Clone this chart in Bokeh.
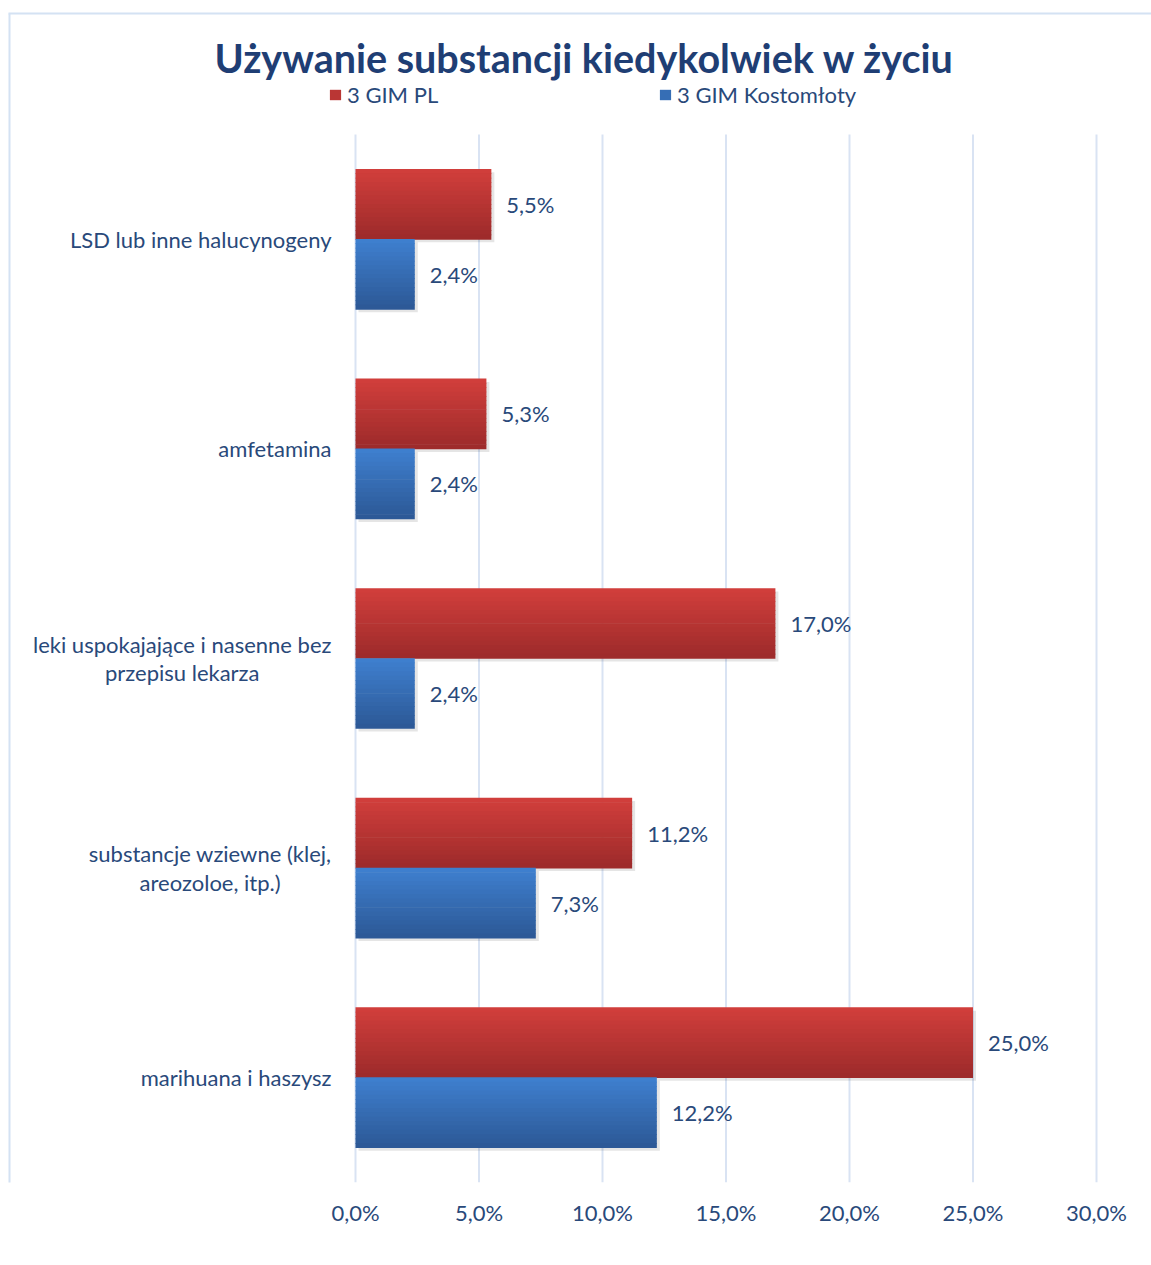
from bokeh.plotting import figure
from bokeh.models import (Range1d, FixedTicker, CustomJSTickFormatter,
                          Label, Legend, LegendItem, ColumnDataSource)
from bokeh.transform import dodge
from bokeh.core.properties import value
from bokeh.embed import file_html
from bokeh.resources import INLINE

# ---------------- data ----------------
categories = [
    "LSD lub inne halucynogeny",
    "amfetamina",
    "leki uspokajające i nasenne bez\nprzepisu lekarza",
    "substancje wziewne (klej,\nareozoloe, itp.)",
    "marihuana i haszysz",
]
series_names = ["3 GIM PL", "3 GIM Kostomłoty"]
gim_pl = [5.5, 5.3, 17.0, 11.2, 25.0]
gim_kostomloty = [2.4, 2.4, 2.4, 7.3, 12.2]
x_ticks = [0, 5, 10, 15, 20, 25, 30]
title_text = "Używanie substancji kiedykolwiek w życiu"

# ---------------- style / layout ----------------
FONT = "Lato"
FS = "22px"
TEXT_COLOR = "#29497a"
TITLE_COLOR = "#1f3e74"
GRID_COLOR = "#d9e3f3"
BORDER_COLOR = "#d4e2f3"
RED_TOP, RED_BOTTOM = "#d23f3c", "#9c2a2a"
BLUE_TOP, BLUE_BOTTOM = "#3f80d0", "#2c5895"

W, H = 1151, 1265
AX0, AX30 = 355, 1096                # pixel position of 0 % and 30 %
PLOT_T, FRAME_B = 134, 1182          # top of bar area / bottom of frame (px)
N_CAT = len(categories)
PX_Y = N_CAT / (FRAME_B - PLOT_T)    # data units per pixel (vertical)
PX_X = 30.0 / (AX30 - AX0)           # data units per pixel (horizontal)


def py(page_y):
    return (FRAME_B - page_y) * PX_Y


def px(page_x):
    return (page_x - AX0) * PX_X


cat_y = [N_CAT - i - 0.5 for i in range(N_CAT)]

p = figure(
    width=W, height=H,
    x_range=Range1d(px(0), px(W)), y_range=Range1d(py(FRAME_B), py(0)),
    output_backend="svg", toolbar_location=None,
)
p.min_border = 0
p.min_border_bottom = H - FRAME_B
p.outline_line_color = None
p.background_fill_color = "white"
p.border_fill_color = "white"
p.xgrid.grid_line_color = None
p.ygrid.grid_line_color = None
p.yaxis.visible = False

# x axis
p.xaxis.ticker = FixedTicker(ticks=x_ticks)
p.xaxis.formatter = CustomJSTickFormatter(
    code="return tick.toFixed(1).replace('.', ',') + '%';")
p.xaxis.axis_line_color = None
p.xaxis.major_tick_line_color = None
p.xaxis.minor_tick_line_color = None
p.xaxis.major_label_text_font = FONT
p.xaxis.major_label_text_color = TEXT_COLOR
p.xaxis.major_label_text_font_size = FS
p.xaxis.major_label_standoff = 10

# chart border (left and top)
p.segment(x0=[px(9), px(8)], y0=[py(FRAME_B + 5), py(13)],
          x1=[px(9), px(W + 5)], y1=[py(13), py(13)],
          line_color=BORDER_COLOR, line_width=2)

# vertical gridlines (only across the bar area)
p.segment(x0=x_ticks, x1=x_ticks, y0=[0] * len(x_ticks), y1=[N_CAT] * len(x_ticks),
          line_color=GRID_COLOR, line_width=2)

# category labels (right-anchored, lines centred)
p.text(x=[0] * N_CAT, y=cat_y, text=categories, x_offset=-24,
       anchor="center_right", text_align="center", text_baseline="middle",
       text_line_height=1.05,
       text_font=value(FONT), text_font_size=FS, text_color=TEXT_COLOR)


def lerp(c1, c2, t):
    a = [int(c1[i:i + 2], 16) for i in (1, 3, 5)]
    b = [int(c2[i:i + 2], 16) for i in (1, 3, 5)]
    return "#%02x%02x%02x" % tuple(round(x + (y - x) * t) for x, y in zip(a, b))


BAR_H = 70 * PX_Y
N_SLICES = 16
legend_items = []
for name, vals, offset, ctop, cbot in [
    (series_names[0], gim_pl, BAR_H / 2, RED_TOP, RED_BOTTOM),
    (series_names[1], gim_kostomloty, -BAR_H / 2, BLUE_TOP, BLUE_BOTTOM),
]:
    labels = [("%.1f" % v).replace(".", ",") + "%" for v in vals]
    src = ColumnDataSource(dict(y=cat_y, val=vals, lbl=labels,
                                shadow=[v + 3 * PX_X for v in vals]))
    # soft shadow
    p.hbar(y=dodge("y", offset - 3 * PX_Y), left=3 * PX_X,
           right="shadow", height=BAR_H, source=src,
           fill_color="#000000", fill_alpha=0.10, line_color=None)
    # gradient bar made of thin slices
    for k in range(N_SLICES):
        t = (k + 0.5) / N_SLICES
        c = offset + BAR_H / 2 - (k + 0.5) * BAR_H / N_SLICES
        p.hbar(y=dodge("y", c), left=0, right="val",
               height=BAR_H / N_SLICES * 1.15, source=src,
               fill_color=lerp(ctop, cbot, t), line_color=None)
    # value labels
    p.text(x="val", y=dodge("y", offset), text="lbl",
           source=src, x_offset=15, text_baseline="middle", text_align="left",
           text_font=value(FONT), text_font_size=FS, text_color=TEXT_COLOR)
    # zero-height renderer that only provides the legend swatch
    swatch = p.hbar(y="y", left=0, right="val", height=0, source=src,
                    fill_color=lerp(ctop, cbot, 0.45), line_color=None)
    legend_items.append(LegendItem(label=name, renderers=[swatch]))

legend = Legend(items=legend_items, orientation="horizontal",
                location=(328, FRAME_B - 108),
                glyph_width=14, glyph_height=13, label_standoff=5,
                label_width=292, spacing=19, padding=0, margin=0,
                border_line_color=None, background_fill_alpha=0,
                label_text_font=FONT, label_text_font_size="22px",
                label_text_color=TEXT_COLOR)
p.add_layout(legend, "center")

title = Label(x=px(584), y=py(57), text=title_text,
              text_align="center", text_baseline="alphabetic",
              text_font=FONT, text_font_style="bold", text_font_size="39.5px",
              text_color=TITLE_COLOR)
p.add_layout(title)

open("out.html", "w").write(file_html(p, INLINE))
